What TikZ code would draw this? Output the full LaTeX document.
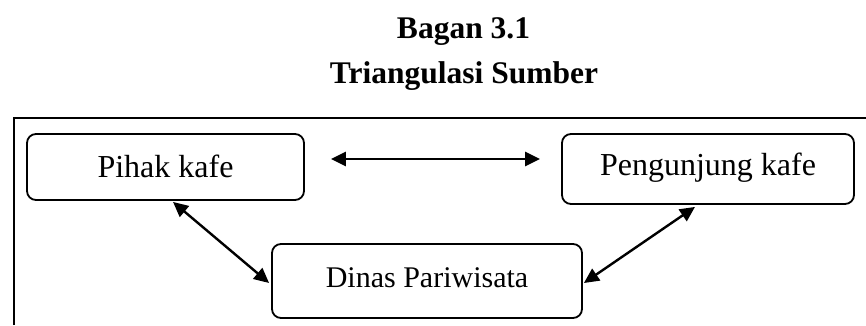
\documentclass[tikz,border=0pt]{standalone}
\usepackage{fontspec}
\setmainfont{Liberation Serif}
\usetikzlibrary{arrows.meta}
\begin{document}
\begin{tikzpicture}[x=1pt,y=-1pt,
  boxnode/.style={draw,line width=1.8pt,rounded corners=9pt,inner sep=0pt,
    font=\fontsize{32}{36}\selectfont,align=center},
  biarrow/.style={line width=2.4pt,{Triangle[length=15pt,width=14pt]}-{Triangle[length=15pt,width=14pt]}},
  titletext/.style={font=\bfseries\fontsize{31.5}{36}\selectfont,anchor=base,inner sep=0pt}
]
\useasboundingbox (0,0) rectangle (866,325);
% titles
\node[titletext] (t1) at (463.5,38) {Bagan 3.1};
\node[titletext] (t2) at (464,83) {Triangulasi Sumber};
% frame (cut at right and bottom)
\draw[line width=2.2pt] (14,325) -- (14,118) -- (866,118);
% boxes
\node[boxnode,minimum width=277pt,minimum height=66pt,text height=24pt,text depth=4pt] (pihak) at (165.5,167) {Pihak kafe};
\node[boxnode,minimum width=292pt,minimum height=70pt,text height=21pt,text depth=8pt] (peng) at (708,169) {Pengunjung kafe};
\node[boxnode,minimum width=310pt,minimum height=74pt,text height=20pt,text depth=8pt,font=\fontsize{30}{36}\selectfont] (dinas) at (427,281) {Dinas Pariwisata};
% connectors
\draw[biarrow] ([xshift=26pt,yshift=8pt]pihak.east) -- ([xshift=-21pt,yshift=10pt]peng.west);
\draw[biarrow] ([xshift=7.5pt,yshift=-1pt]pihak.south) -- ([xshift=-2pt,yshift=-2pt]dinas.west);
\draw[biarrow] ([xshift=1pt,yshift=-2pt]dinas.east) -- ([xshift=-13pt,yshift=-2pt]peng.south);
\end{tikzpicture}
\end{document}
